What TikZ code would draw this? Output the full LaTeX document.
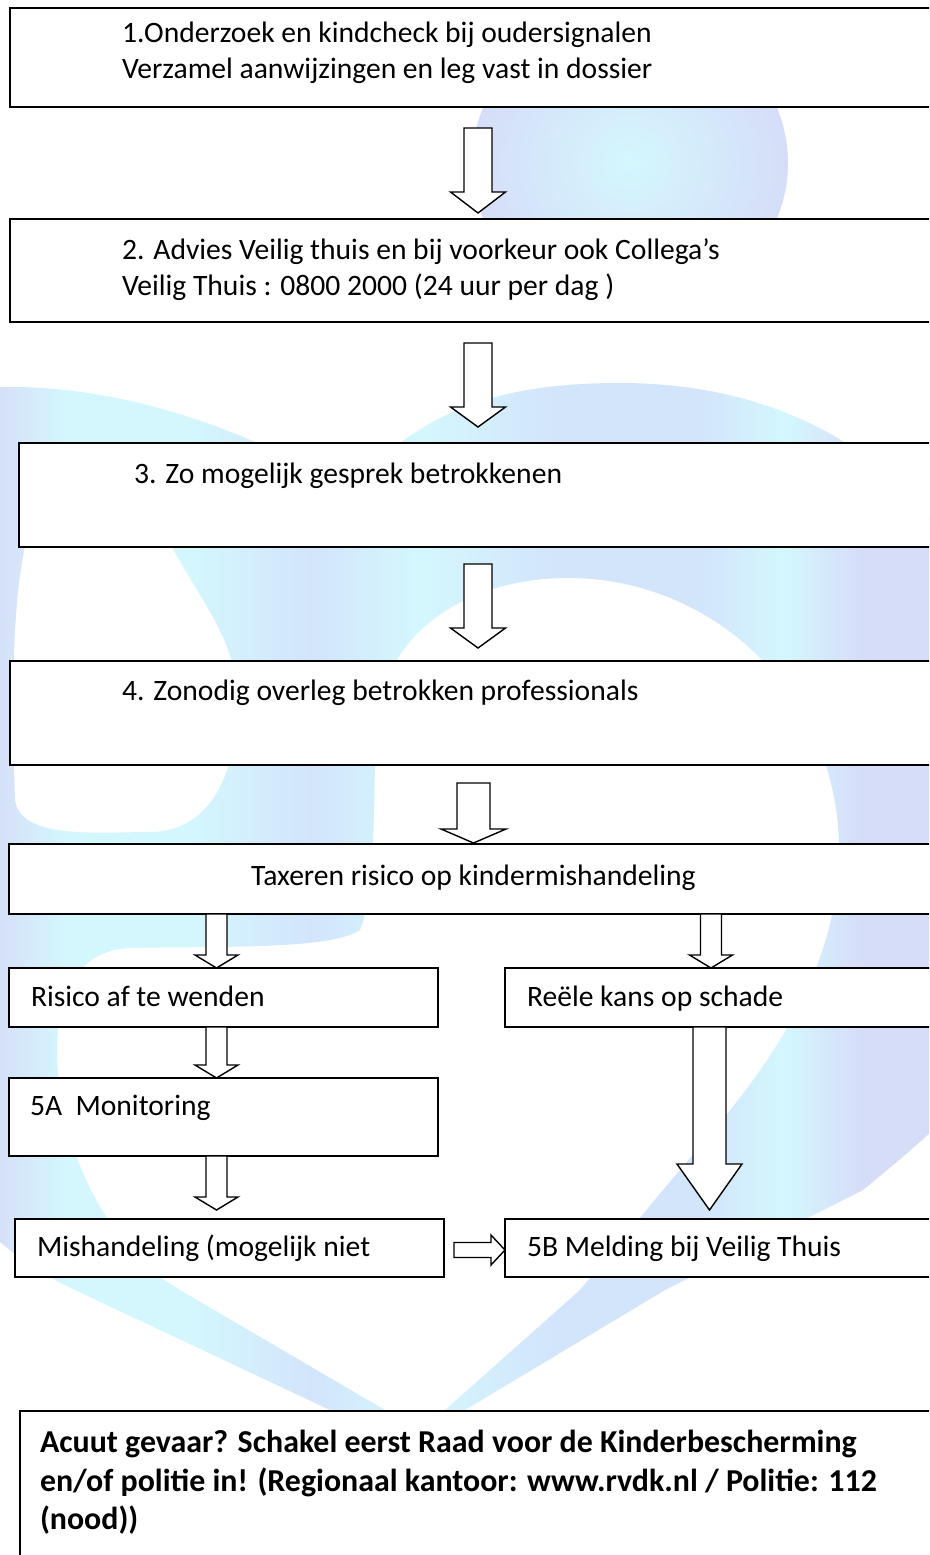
\documentclass[tikz,border=0pt]{standalone}
\usepackage{fontspec}
\setmainfont{Carlito}
\usetikzlibrary{calc}
\definecolor{wmL}{RGB}{214,221,248}
\definecolor{wmC}{RGB}{212,247,253}
\definecolor{wmB}{RGB}{211,229,251}
\pgfdeclarehorizontalshading{wmshade}{100bp}{color(0bp)=(wmL); color(30bp)=(wmL); color(33bp)=(wmC); color(38bp)=(wmC); color(43bp)=(wmB); color(47.5bp)=(wmC); color(53bp)=(wmB); color(59bp)=(wmB); color(62.5bp)=(wmC); color(65.5bp)=(wmL); color(100bp)=(wmL)}
% vertical block arrow: #1 x centre, #2 from node, #3 to node, #4 top gap, #5 bottom gap, #6 half shaft, #7 half head, #8 head length
\newcommand{\vblk}[8]{%
  \draw[blk] let \p1=(#2.south), \p2=(#3.north) in
    (#1pt-#6pt,\y1-#4pt) -- (#1pt+#6pt,\y1-#4pt) -- (#1pt+#6pt,\y2+#5pt+#8pt)
    -- (#1pt+#7pt,\y2+#5pt+#8pt) -- (#1pt,\y2+#5pt) -- (#1pt-#7pt,\y2+#5pt+#8pt)
    -- (#1pt-#6pt,\y2+#5pt+#8pt) -- cycle;}
% horizontal block arrow: #1 y centre, #2 from node, #3 to node, #4 left gap, #5 right gap, #6 half shaft, #7 half head, #8 head length
\newcommand{\hblk}[8]{%
  \draw[blk] let \p1=(#2.east), \p2=(#3.west) in
    (\x1+#4pt,-#1pt+#6pt) -- (\x2-#5pt-#8pt,-#1pt+#6pt) -- (\x2-#5pt-#8pt,-#1pt+#7pt)
    -- (\x2-#5pt,-#1pt) -- (\x2-#5pt-#8pt,-#1pt-#7pt) -- (\x2-#5pt-#8pt,-#1pt-#6pt)
    -- (\x1+#4pt,-#1pt-#6pt) -- cycle;}
\begin{document}
\begin{tikzpicture}[x=1pt,y=-1pt,
  box/.style={draw=black, line width=1.7pt, fill=white, rectangle, inner sep=0pt, outer sep=0pt, anchor=north west},
  blk/.style={draw=black, line width=1.4pt, fill=white, line join=miter},
  txt/.style={inner sep=0pt, outer sep=0pt, anchor=base west, font=\fontsize{29.6}{35}\selectfont},
  btxt/.style={inner sep=0pt, outer sep=0pt, anchor=base west, font=\fontsize{31.9}{38}\selectfont\bfseries}]
\useasboundingbox (0,0) rectangle (929,1555);
\clip (0,0) rectangle (929,1555);
\fill[white] (0,0) rectangle (929,1555);
% watermark
\shade[inner color=wmC, outer color=wmL] (630,163) ellipse [x radius=158pt, y radius=150pt];
\shade[shading=wmshade, even odd rule]
  (415,1450) -- (330,1410) -- (75,1290) .. controls (-30,1240) and (-100,1150) .. (-110,1000)
  .. controls (-130,700) and (-120,395) .. (-20,388) .. controls (100,380) and (230,420) .. (350,490)
  .. controls (420,410) and (500,383) .. (620,383) .. controls (750,383) and (880,430) .. (960,560)
  .. controls (1040,690) and (1092,760) .. (1092,844)
  .. controls (1092,1000) and (960,1110) .. (863,1190) -- (665,1290) -- (465,1410) -- cycle
  (15,800) .. controls (10,650) and (10,480) .. (80,455) .. controls (130,440) and (160,500) .. (172,547)
  .. controls (200,600) and (237,640) .. (237,700) .. controls (237,790) and (200,832) .. (150,832)
  .. controls (100,832) and (20,840) .. cycle
  (415,1440) -- (385,1410) -- (180,1290) .. controls (110,1250) and (57,1150) .. (57,1050)
  .. controls (57,990) and (80,950) .. (130,948) .. controls (220,946) and (330,950) .. (360,930)
  .. controls (380,880) and (370,760) .. (380,700) .. controls (400,620) and (480,578) .. (568,578)
  .. controls (718,578) and (839,700) .. (839,849) .. controls (839,1000) and (730,1110) .. (663,1190)
  -- (580,1290) -- (445,1410) -- cycle;
% boxes
\node[box, minimum width=930pt, minimum height=99pt]  (b1) at (10,8) {};
\node[box, minimum width=930pt, minimum height=103pt] (b2) at (10,219) {};
\node[box, minimum width=921pt, minimum height=104pt] (b3) at (19,443) {};
\node[box, minimum width=930pt, minimum height=104pt] (b4) at (10,661) {};
\node[box, minimum width=931pt, minimum height=70pt]  (b5) at (9,844) {};
\node[box, minimum width=429pt, minimum height=59pt]  (risico) at (9,968) {};
\node[box, minimum width=435pt, minimum height=59pt]  (reele) at (505,968) {};
\node[box, minimum width=429pt, minimum height=78pt]  (mon) at (9,1078) {};
\node[box, minimum width=429pt, minimum height=58pt]  (mish) at (15,1219) {};
\node[box, minimum width=435pt, minimum height=58pt]  (meld) at (505,1219) {};
\node[box, minimum width=920pt, minimum height=160pt] (acuut) at (20,1411) {};
% arrows
\vblk{478}{b1}{b2}{21}{6}{14}{27.5}{21}
\vblk{478}{b2}{b3}{21}{16}{14}{27.5}{20}
\vblk{478}{b3}{b4}{17}{13}{14}{27.5}{20}
\vblk{473.5}{b4}{b5}{18}{1}{16.5}{32.5}{14}
\vblk{216.5}{b5}{risico}{0}{0}{10.5}{21.5}{13}
\vblk{711}{b5}{reele}{0}{0}{10.5}{21.5}{13}
\vblk{216.5}{risico}{mon}{0}{0}{10.5}{21.5}{13}
\vblk{216.5}{mon}{mish}{0}{9}{10.5}{21.5}{13}
\vblk{709.5}{reele}{meld}{0}{9}{16.5}{32.5}{46}
\hblk{1250}{mish}{meld}{10}{0}{7.5}{15}{14}
% texts
\node[txt] (t1a) at (122,43) {1.Onderzoek en kindcheck bij oudersignalen};
\node[txt] (t1b) at (122,78) {Verzamel aanwijzingen en leg vast in dossier};
\node[txt] (t2a) at (122,259) {2. Advies Veilig thuis en bij voorkeur ook Collega’s};
\node[txt] (t2b) at (122,295) {Veilig Thuis : 0800 2000 (24 uur per dag )};
\node[txt] (t3) at (134,483) {3. Zo mogelijk gesprek betrokkenen};
\node[txt] (t4) at (122,700) {4. Zonodig overleg betrokken professionals};
\node[txt, anchor=base] (t5) at (473.5,885) {Taxeren risico op kindermishandeling};
\node[txt] (t6) at (31,1006) {Risico af te wenden};
\node[txt] (t7) at (527,1006) {Reële kans op schade};
\node[txt] (t8) at (30,1115) {5A~\ Monitoring};
\node[txt] (t9) at (37,1256) {Mishandeling (mogelijk niet};
\node[txt] (t10) at (527,1256) {5B Melding bij Veilig Thuis};
\node[btxt] (t11a) at (40,1452) {Acuut gevaar? Schakel eerst Raad voor de Kinderbescherming};
\node[btxt] (t11b) at (40,1491) {en/of politie in! (Regionaal kantoor: www.rvdk.nl / Politie: 112};
\node[btxt] (t11c) at (40,1529) {(nood))};
\end{tikzpicture}
\end{document}
